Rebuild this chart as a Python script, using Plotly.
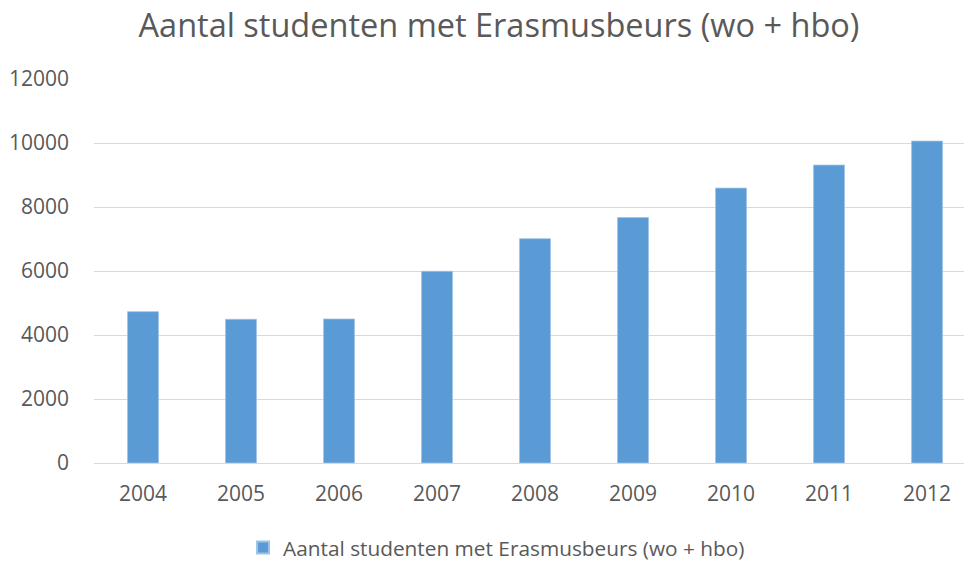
import plotly.graph_objects as go

years = ["2004", "2005", "2006", "2007", "2008", "2009", "2010", "2011", "2012"]
students = [4730, 4490, 4500, 5990, 7010, 7670, 8590, 9310, 10060]
series_name = "Aantal studenten met Erasmusbeurs (wo + hbo)"
title_text = "Aantal studenten met Erasmusbeurs (wo + hbo)"
y_ticks = [0, 2000, 4000, 6000, 8000, 10000, 12000]

FONT = "Open Sans"
TXT = "#595959"

fig = go.Figure()
fig.add_trace(go.Bar(
    x=years, y=students, name=series_name,
    marker=dict(color="#5B9BD5", line=dict(color="#9DC3E6", width=0.8)),
    showlegend=True,
))

fig.update_layout(
    width=964, height=561,
    paper_bgcolor="white", plot_bgcolor="white",
    margin=dict(l=94, r=0, t=79, b=98, autoexpand=False),
    bargap=0.684,
    title=dict(text=title_text, x=0.4655, xref="paper", xanchor="center",
               y=0.955, yref="container", yanchor="middle",
               font=dict(family=FONT, size=32.5, color=TXT)),
    font=dict(family=FONT, color=TXT),
    showlegend=True,
    legend=dict(orientation="h", x=0.4627, xanchor="center",
                y=0.0232, yref="container", yanchor="middle",
                font=dict(family=FONT, size=20.8, color=TXT), itemsizing="constant"),
    xaxis=dict(type="category", range=[-0.5, 8.377], showgrid=False, showline=False,
               ticks="", tickfont=dict(family=FONT, size=21, color=TXT), ticklabelstandoff=16),
    yaxis=dict(range=[0, 12000], tickvals=y_ticks, tickformat="d", showgrid=True,
               gridcolor="#D9D9D9", gridwidth=1, zeroline=True, zerolinecolor="#D9D9D9",
               zerolinewidth=1, showline=False, ticks="",
               tickfont=dict(family=FONT, size=21, color=TXT), ticklabelstandoff=24),
)

fig.write_html(
    "out.html",
    config={"displayModeBar": False},
    post_script=(
        "document.body.style.margin='0';"
        "document.body.style.overflow='hidden';"
        "document.documentElement.style.overflow='hidden';"
    ),
)
